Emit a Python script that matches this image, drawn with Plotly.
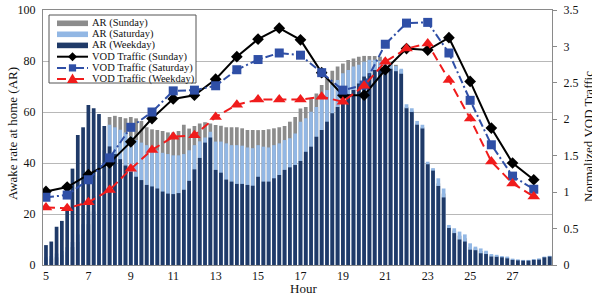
import plotly.graph_objects as go

# ---------------- data ----------------
bar_hours = [5 + i * 0.25 for i in range(96)]          # 15-minute slots, 5:00 .. 28:45
vod_hours = list(range(5, 29))
x_tick_vals = [5, 7, 9, 11, 13, 15, 17, 19, 21, 23, 25, 27]

ar_sunday = [2, 2.5, 3, 4, 5, 7, 9, 12, 16, 21, 28, 38,
             58.0, 58.5, 58.0, 57.5, 58.0, 57.5, 56.5, 54.0, 53.2, 52.9, 52.5, 52.0,
             52.0, 52.5, 55.0, 53.5, 54.5, 55.5, 56.0, 55.5, 54.9, 54.6, 54.0, 54.0,
             54.0, 53.6, 52.9, 52.9, 52.9, 52.9, 53.2, 53.6, 54.0, 54.5, 56.2, 58.0,
             61.4, 62.0, 65.4, 67.3, 70.6, 73.2, 76.2, 77.8, 79.0, 80.4, 81.0, 81.7,
             82.0, 82.0, 82.0, 81.7, 81.0, 79.5, 78.5, 76.5, 62.0, 60.5, 55.5, 54.0,
             39.8, 37.5, 32.0, 28.0, 15.0, 13.5, 11.5, 10.5, 7.0, 6.5, 5.5, 5.0,
             3.8, 3.6, 3.2, 3.0, 2.2, 2.0, 1.8, 1.8, 2.1, 2.3, 3.1, 3.4]

ar_saturday = [3, 3.5, 4.5, 5.5, 7, 9, 12, 16, 21, 27, 35, 45,
               55.0, 54.0, 53.0, 52.0, 50.5, 49.0, 48.0, 47.0, 46.0, 45.0, 44.0, 43.5,
               43.0, 43.0, 43.5, 45.0, 47.0, 48.5, 50.0, 52.3, 48.4, 48.4, 47.7, 47.0,
               47.0, 46.8, 46.1, 45.8, 47.0, 46.4, 46.1, 47.0, 47.7, 49.0, 49.7, 51.6,
               56.2, 57.5, 60.1, 62.0, 65.4, 68.6, 70.6, 72.5, 75.2, 76.5, 77.8, 78.5,
               79.7, 80.5, 80.5, 80.0, 80.0, 79.0, 78.0, 77.0, 63.0, 61.5, 56.5, 55.0,
               40.5, 38.0, 34.0, 30.0, 15.7, 14.4, 13.1, 12.0, 8.5, 7.2, 6.5, 5.6,
               4.3, 4.0, 3.5, 3.3, 2.5, 2.2, 2.0, 2.0, 2.3, 2.6, 3.3, 3.6]

ar_weekday = [7.8, 9.2, 15.0, 17.3, 22.0, 37.8, 51.0, 54.0, 62.7, 61.5, 59.2, 54.5,
              46.5, 43.5, 41.5, 39.0, 36.6, 34.6, 33.3, 31.4, 30.8, 30.0, 28.8, 28.0,
              27.8, 28.2, 29.5, 33.0, 37.5, 42.0, 48.0, 50.0, 37.3, 36.2, 33.5, 32.7,
              31.8, 31.8, 31.4, 31.1, 34.6, 32.7, 32.7, 34.0, 35.3, 37.3, 38.3, 39.2,
              40.8, 44.4, 46.4, 50.3, 52.9, 56.2, 59.5, 62.0, 64.0, 66.7, 68.6, 71.2,
              73.9, 75.2, 76.5, 77.5, 78.0, 77.0, 76.0, 75.0, 61.5, 60.0, 55.0, 53.5,
              39.5, 37.0, 31.0, 26.5, 14.5, 12.5, 10.0, 9.2, 6.0, 5.8, 4.6, 4.3,
              3.3, 3.2, 3.0, 2.6, 2.0, 1.8, 1.7, 1.7, 2.0, 2.1, 3.0, 3.3]

vod_sunday = [1.01, 1.07, 1.24, 1.40, 1.69, 2.01, 2.28, 2.33, 2.55, 2.86, 3.10, 3.25,
              3.09, 2.64, 2.33, 2.33, 2.68, 2.97, 2.95, 3.12, 2.52, 1.88, 1.40, 1.17]
vod_saturday = [0.93, 0.96, 1.17, 1.47, 1.89, 2.10, 2.39, 2.40, 2.46, 2.68, 2.82, 2.91,
                2.88, 2.64, 2.40, 2.47, 3.03, 3.32, 3.33, 2.91, 2.26, 1.65, 1.22, 1.04]
vod_weekday = [0.79, 0.78, 0.86, 1.03, 1.32, 1.58, 1.76, 1.78, 2.03, 2.20, 2.27, 2.27,
               2.27, 2.31, 2.24, 2.46, 2.79, 2.97, 3.04, 2.54, 2.01, 1.42, 1.12, 0.94]

legend_labels = ["AR (Sunday)", "AR (Saturday)", "AR (Weekday)",
                 "VOD Traffic (Sunday)", "VOD Traffic (Saturday)", "VOD Traffic (Weekday)"]

# ---------------- styles ----------------
C_SUN_BAR = "#8c8c8c"
C_SAT_BAR = "#92b7e4"
C_WK_BAR = "#1f3a68"
C_SUN_LINE = "#000000"
C_SAT_LINE = "#2f4fa6"
C_WK_LINE = "#f01c1c"
FONT = "Liberation Serif, Times New Roman, serif"

# plot area in pixels
L, R, T, B = 43, 552, 10, 265
W, H = 592, 295


def fx(px):
    return (px - L) / (R - L)


def fy(py):
    return (B - py) / (B - T)


fig = go.Figure()

bar_w = 0.175
for vals, col in ((ar_sunday, C_SUN_BAR), (ar_saturday, C_SAT_BAR), (ar_weekday, C_WK_BAR)):
    fig.add_trace(go.Bar(x=bar_hours, y=vals, width=bar_w, marker=dict(color=col, line=dict(width=0)),
                         xaxis="x", yaxis="y", hoverinfo="skip"))

line_specs = [
    (vod_sunday, C_SUN_LINE, "solid", "solid", "diamond", 9),
    (vod_saturday, C_SAT_LINE, "8px,3px,2px,3px", "dashdot", "square", 9),
    (vod_weekday, C_WK_LINE, "9px,5px", "dash", "triangle-up", 11),
]
for vals, col, dash, _, sym, size in line_specs:
    fig.add_trace(go.Scatter(x=vod_hours, y=vals, mode="lines+markers", xaxis="x", yaxis="y2",
                             line=dict(color=col, width=2, dash=dash),
                             marker=dict(symbol=sym, size=size, color=col), hoverinfo="skip"))

# ---------------- manual legend drawn with paper-referenced shapes ----------------
shapes = []
shapes.append(dict(type="rect", xref="paper", yref="paper", x0=fx(49), x1=fx(196), y0=fy(83), y1=fy(15),
                   fillcolor="white", line=dict(color="#555555", width=1), layer="above"))
rows = [23.3, 34.3, 45.4, 56.7, 67.9, 79.0]
sx0, sx1, sxm = 57, 88, 72.5
for row, col in zip(rows[:3], (C_SUN_BAR, C_SAT_BAR, C_WK_BAR)):
    shapes.append(dict(type="rect", xref="paper", yref="paper", x0=fx(sx0), x1=fx(sx1),
                       y0=fy(row + 2.8), y1=fy(row - 2.8), fillcolor=col, line=dict(width=0), layer="above"))


def marker_path(sym, cx, cy, s):
    pts = {
        "diamond": [(0, -s), (s, 0), (0, s), (-s, 0)],
        "square": [(-s * 0.8, -s * 0.8), (s * 0.8, -s * 0.8), (s * 0.8, s * 0.8), (-s * 0.8, s * 0.8)],
        "triangle-up": [(-s, s * 0.75), (s, s * 0.75), (0, -s * 1.0)],
    }[sym]
    return "M " + " L ".join(f"{fx(cx + dx):.5f},{fy(cy + dy):.5f}" for dx, dy in pts) + " Z"


for row, (vals, col, dash, dash_name, sym, size) in zip(rows[3:], line_specs):
    shapes.append(dict(type="line", xref="paper", yref="paper", x0=fx(sx0), x1=fx(sx1), y0=fy(row), y1=fy(row),
                       line=dict(color=col, width=2, dash=dash_name), layer="above"))
    shapes.append(dict(type="path", xref="paper", yref="paper", path=marker_path(sym, sxm, row, size / 2),
                       fillcolor=col, line=dict(width=0), layer="above"))

annotations = []
for row, lab in zip(rows, legend_labels):
    annotations.append(dict(x=fx(90), y=fy(row), xref="paper", yref="paper", text=lab, showarrow=False,
                            xanchor="left", yanchor="middle", font=dict(family=FONT, size=10.5, color="#111")))
annotations.append(dict(x=fx(12), y=fy(134), xref="paper", yref="paper", text="Awake rate at home (AR)",
                        textangle=-90, showarrow=False, xanchor="center", yanchor="middle",
                        font=dict(family=FONT, size=13, color="#111")))
annotations.append(dict(x=fx(588), y=fy(137), xref="paper", yref="paper", text="Normalized VOD Traffic",
                        textangle=-90, showarrow=False, xanchor="center", yanchor="middle",
                        font=dict(family=FONT, size=13, color="#111")))
annotations.append(dict(x=fx(303), y=fy(288), xref="paper", yref="paper", text="Hour",
                        showarrow=False, xanchor="center", yanchor="middle",
                        font=dict(family=FONT, size=13, color="#111")))

AX = "#8a8a8a"
fig.update_layout(
    width=W, height=H,
    margin=dict(l=L, r=W - R, t=T, b=H - B, pad=0, autoexpand=False),
    paper_bgcolor="white", plot_bgcolor="white",
    barmode="overlay", showlegend=False, hovermode=False,
    font=dict(family=FONT, size=12, color="#111"),
    annotations=annotations, shapes=shapes,
    xaxis=dict(range=[4.86, 28.86], tickvals=x_tick_vals, showgrid=False, zeroline=False, automargin=False,
               showline=True, linecolor=AX, linewidth=1, mirror=True, ticks=""),
    yaxis=dict(range=[0, 100], tickvals=[0, 20, 40, 60, 80, 100], showgrid=True, gridcolor="#b8b8b8",
               gridwidth=1, zeroline=False, showline=True, linecolor=AX, linewidth=1, ticks="",
               ticklabelstandoff=4, automargin=False),
    yaxis2=dict(overlaying="y", side="right", range=[0, 3.5],
                tickvals=[0, 0.5, 1, 1.5, 2, 2.5, 3, 3.5], showgrid=False, zeroline=False,
                showline=True, linecolor=AX, linewidth=1, ticks="outside", ticklen=4, tickcolor=AX,
                ticklabelstandoff=4, automargin=False),
)

fig.write_html("out.html", config={"displayModeBar": False, "staticPlot": True},
               post_script="document.body.style.margin='0px';document.body.style.padding='0px';")
